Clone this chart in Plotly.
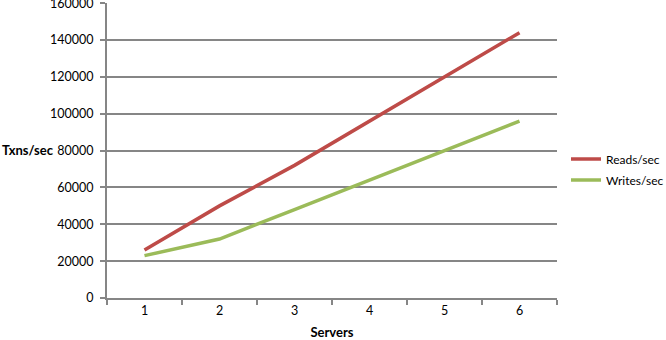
import plotly.graph_objects as go

servers = ["1", "2", "3", "4", "5", "6"]
reads = [26000, 50000, 72000, 96000, 120000, 144000]
writes = [23000, 32000, 48000, 64000, 80000, 96000]
y_ticks = [0, 20000, 40000, 60000, 80000, 100000, 120000, 140000, 160000]

FONT = "Lato"
GRID = "#868686"

fig = go.Figure()
fig.add_trace(go.Scatter(x=servers, y=reads, mode="lines", name="Reads/sec",
                         legendgroup="r",
                         line=dict(color="#BE4B48", width=3.5)))
fig.add_trace(go.Scatter(x=servers, y=writes, mode="lines", name="Writes/sec",
                         legendgroup="w",
                         line=dict(color="#9BBB59", width=3.5)))

fig.update_layout(
    width=666, height=340,
    margin=dict(l=107, r=109, t=3, b=42, autoexpand=False),
    paper_bgcolor="white", plot_bgcolor="white",
    font=dict(family=FONT, size=12.5, color="#000000"),
    showlegend=True,
    legend=dict(x=1.02, y=0.52, xanchor="left", yanchor="top",
                font=dict(family=FONT, size=12), itemwidth=30,
                traceorder="grouped", tracegroupgap=2,
                bgcolor="rgba(0,0,0,0)"),
    xaxis=dict(type="category", range=[-0.5, 5.5], showgrid=False,
               showline=True, linecolor=GRID, linewidth=2,
               ticks="outside", tickson="boundaries", ticklen=5,
               tickcolor=GRID, tickwidth=2, automargin=False,
               title=dict(text="<b>Servers</b>", standoff=15,
                          font=dict(family=FONT, size=13))),
    yaxis=dict(range=[0, 160000 * 1.0008], tickvals=y_ticks,
               ticktext=[str(v) for v in y_ticks],
               showgrid=True, gridcolor=GRID, gridwidth=2,
               showline=True, linecolor=GRID, linewidth=2,
               ticks="outside", ticklen=5, tickcolor=GRID, tickwidth=2,
               zeroline=False, ticklabelstandoff=4, automargin=False,
               ticklabeloverflow="allow"),
    annotations=[dict(text="<b>Txns/sec</b>", xref="paper", yref="paper",
                      x=-107/450, y=0.502, xanchor="left", yanchor="middle",
                      showarrow=False, font=dict(family=FONT, size=13))],
)

fig.write_html("out.html")
